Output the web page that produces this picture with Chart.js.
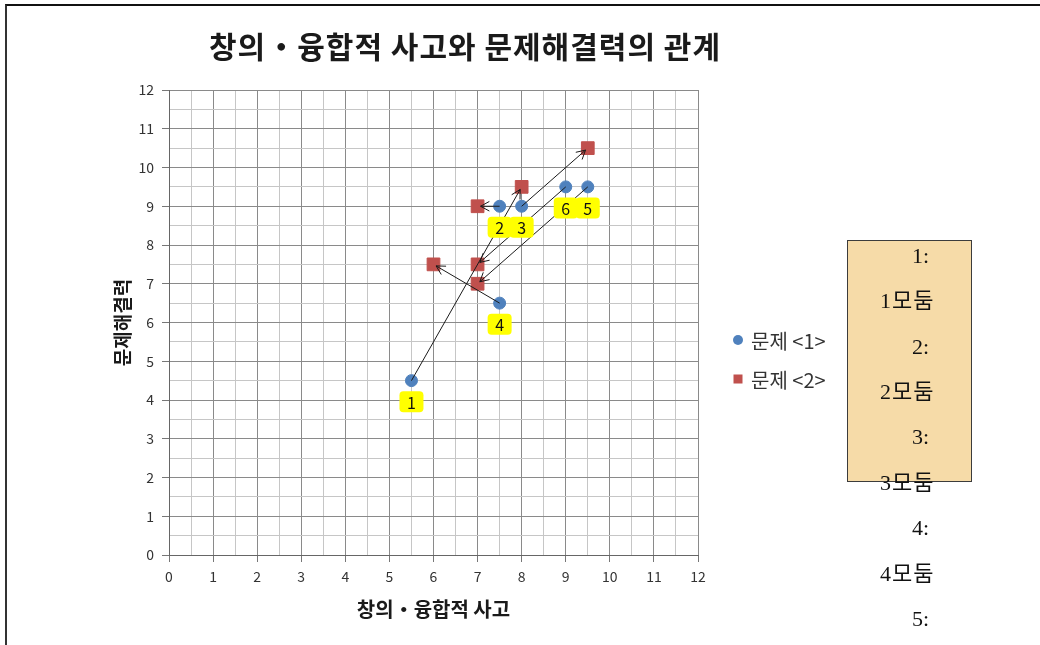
<!DOCTYPE html>
<html>
<head>
<meta charset="utf-8">
<script src="https://cdn.jsdelivr.net/npm/chart.js@4.4.1/dist/chart.umd.min.js"></script>
<style>
  html, body { margin: 0; padding: 0; background: #fff; }
  #wrap { position: relative; width: 1040px; height: 645px; overflow: hidden; }
  #frame { position: absolute; left: 5px; top: 4px; right: -10px; bottom: -10px;
           border-left: 2px solid #333; border-top: 2px solid #111; pointer-events: none; }
  #c { position: absolute; left: 0; top: 0; }
</style>
</head>
<body>
<div id="wrap">
  <canvas id="c" width="1040" height="645"></canvas>
  <div id="frame"></div>
</div>
<script>
// Group numbers and scores (x: 창의・융합적 사고, y: 문제해결력)
const groupLabels  = ['1', '2', '3', '4', '5', '6'];
const creativity1  = [5.5, 7.5, 8, 7.5, 9.5, 9];
const solving1     = [4.5, 9, 9, 6.5, 9.5, 9.5];
const creativity2  = [8, 7, 9.5, 6, 7, 7];
const solving2     = [9.5, 9, 10.5, 7.5, 7, 7.5];
const seriesNames  = ['문제 <1>', '문제 <2>'];
const axisMin = 0, axisMax = 12;
const noteLines    = ['1:', '1모둠', '2:', '2모둠', '3:', '3모둠', '4:', '4모둠', '5:'];
const chartTitle   = '창의・융합적 사고와 문제해결력의 관계';
const xAxisTitle   = '창의・융합적 사고';
const yAxisTitle   = '문제해결력';

const FONT = "'Noto Sans CJK KR', 'Noto Sans', sans-serif";
const SERIF = "'Liberation Serif', 'Noto Sans CJK KR', serif";
const BLUE = '#4F81BD';
const RED = '#C0504D';

const isMajor = v => Number.isInteger(v);

function gridOptions() {
  return {
    color: ctx => (ctx.tick && isMajor(ctx.tick.value)) ? '#8a8a8a' : '#c6c6c6',
    tickColor: ctx => (ctx.tick && isMajor(ctx.tick.value)) ? '#777' : 'rgba(0,0,0,0)',
    tickLength: 7,
    lineWidth: 1,
    drawTicks: true
  };
}

function tickOptions(pad) {
  return {
    stepSize: 0.5,
    autoSkip: false,
    maxRotation: 0,
    padding: pad,
    color: '#333',
    font: { family: FONT, size: 14 },
    callback: v => isMajor(v) ? String(v) : ''
  };
}

const points1 = creativity1.map((x, i) => ({ x, y: solving1[i] }));
const points2 = creativity2.map((x, i) => ({ x, y: solving2[i] }));

// Arrows from 문제 <1> to 문제 <2> for each group, then the group tags
const arrowsAndTags = {
  id: 'arrowsAndTags',
  afterDatasetsDraw(chart) {
    const { ctx, scales: { x, y } } = chart;
    ctx.save();
    ctx.strokeStyle = '#1a1a1a';
    ctx.lineWidth = 1;
    groupLabels.forEach((_, i) => {
      const x1 = x.getPixelForValue(creativity1[i]), y1 = y.getPixelForValue(solving1[i]);
      const x2 = x.getPixelForValue(creativity2[i]), y2 = y.getPixelForValue(solving2[i]);
      const ang = Math.atan2(y2 - y1, x2 - x1);
      const ex = x2 - Math.cos(ang) * 3, ey = y2 - Math.sin(ang) * 3;
      ctx.beginPath();
      ctx.moveTo(x1, y1);
      ctx.lineTo(ex, ey);
      const head = 10, spread = 0.5;
      ctx.moveTo(ex - head * Math.cos(ang - spread), ey - head * Math.sin(ang - spread));
      ctx.lineTo(ex, ey);
      ctx.lineTo(ex - head * Math.cos(ang + spread), ey - head * Math.sin(ang + spread));
      ctx.stroke();
    });
    // yellow number tags under each 문제 <1> point
    ctx.font = '16px ' + FONT;
    ctx.textAlign = 'center';
    ctx.textBaseline = 'middle';
    groupLabels.forEach((lab, i) => {
      const cx = x.getPixelForValue(creativity1[i]);
      const cy = y.getPixelForValue(solving1[i]) + 21;
      ctx.fillStyle = '#FFFF00';
      ctx.beginPath();
      ctx.roundRect(cx - 12, cy - 10.5, 24, 21, 4);
      ctx.fill();
      ctx.fillStyle = '#111';
      ctx.fillText(lab, cx, cy + 1);
    });
    ctx.restore();
  }
};

// Title, axis titles, legend and the note box
const decorations = {
  id: 'decorations',
  afterDraw(chart) {
    const { ctx, chartArea } = chart;
    const ds = chart.data.datasets;
    ctx.save();
    ctx.fillStyle = '#1a1a1a';
    ctx.textAlign = 'center';
    ctx.textBaseline = 'middle';
    ctx.font = 'bold 30px ' + FONT;
    ctx.letterSpacing = '1px';
    ctx.fillText(chartTitle, 465, 47);
    ctx.letterSpacing = '0px';

    ctx.font = 'bold 20px ' + FONT;
    ctx.fillText(xAxisTitle, (chartArea.left + chartArea.right) / 2, 609);
    ctx.save();
    ctx.translate(123, (chartArea.top + chartArea.bottom) / 2);
    ctx.rotate(-Math.PI / 2);
    ctx.font = 'bold 19px ' + FONT;
    ctx.fillText(yAxisTitle, 0, 0);
    ctx.restore();

    // legend
    ctx.textAlign = 'left';
    ctx.font = '20px ' + FONT;
    const legendY = [340, 379];
    ds.forEach((d, i) => {
      ctx.fillStyle = d.backgroundColor;
      if (d.pointStyle === 'circle') {
        ctx.beginPath();
        ctx.arc(738, legendY[i], 5, 0, Math.PI * 2);
        ctx.fill();
      } else {
        ctx.fillRect(733.5, legendY[i] - 4.5, 9, 9);
      }
      ctx.fillStyle = '#333';
      ctx.fillText(d.label, 751, legendY[i] + 1);
    });

    // note box
    ctx.fillStyle = '#F6DBA8';
    ctx.fillRect(847.5, 240.5, 124, 241);
    ctx.strokeStyle = '#3c3c3c';
    ctx.lineWidth = 1;
    ctx.strokeRect(847.5, 240.5, 124, 241);
    ctx.fillStyle = '#111';
    ctx.font = '22px ' + SERIF;
    noteLines.forEach((t, i) => {
      const isHead = t.endsWith(':');
      ctx.letterSpacing = isHead ? '0px' : '1px';
      ctx.fillText(t, isHead ? 912 : 880, 257 + 45.4 * i);
    });
    ctx.restore();
  }
};

new Chart(document.getElementById('c'), {
  type: 'scatter',
  data: {
    datasets: [
      { label: seriesNames[0], data: points1, pointStyle: 'circle', pointRadius: 6,
        backgroundColor: BLUE, borderColor: BLUE, borderWidth: 1 },
      { label: seriesNames[1], data: points2, pointStyle: 'rect', pointRadius: 9,
        backgroundColor: RED, borderColor: RED, borderWidth: 1 }
    ]
  },
  options: {
    responsive: false,
    animation: false,
    events: [],
    layout: { padding: { left: 109, right: 342, top: 90, bottom: 50 } },
    plugins: { legend: { display: false }, tooltip: { enabled: false }, title: { display: false } },
    scales: {
      x: {
        type: 'linear', min: axisMin, max: axisMax,
        ticks: tickOptions(6),
        grid: gridOptions(),
        border: { color: '#666', width: 1 },
        afterFit: s => { s.height = 40; }
      },
      y: {
        type: 'linear', min: axisMin, max: axisMax,
        ticks: tickOptions(8),
        grid: gridOptions(),
        border: { color: '#666', width: 1 },
        afterFit: s => { s.width = 60; }
      }
    }
  },
  plugins: [arrowsAndTags, decorations]
});
</script>
</body>
</html>
